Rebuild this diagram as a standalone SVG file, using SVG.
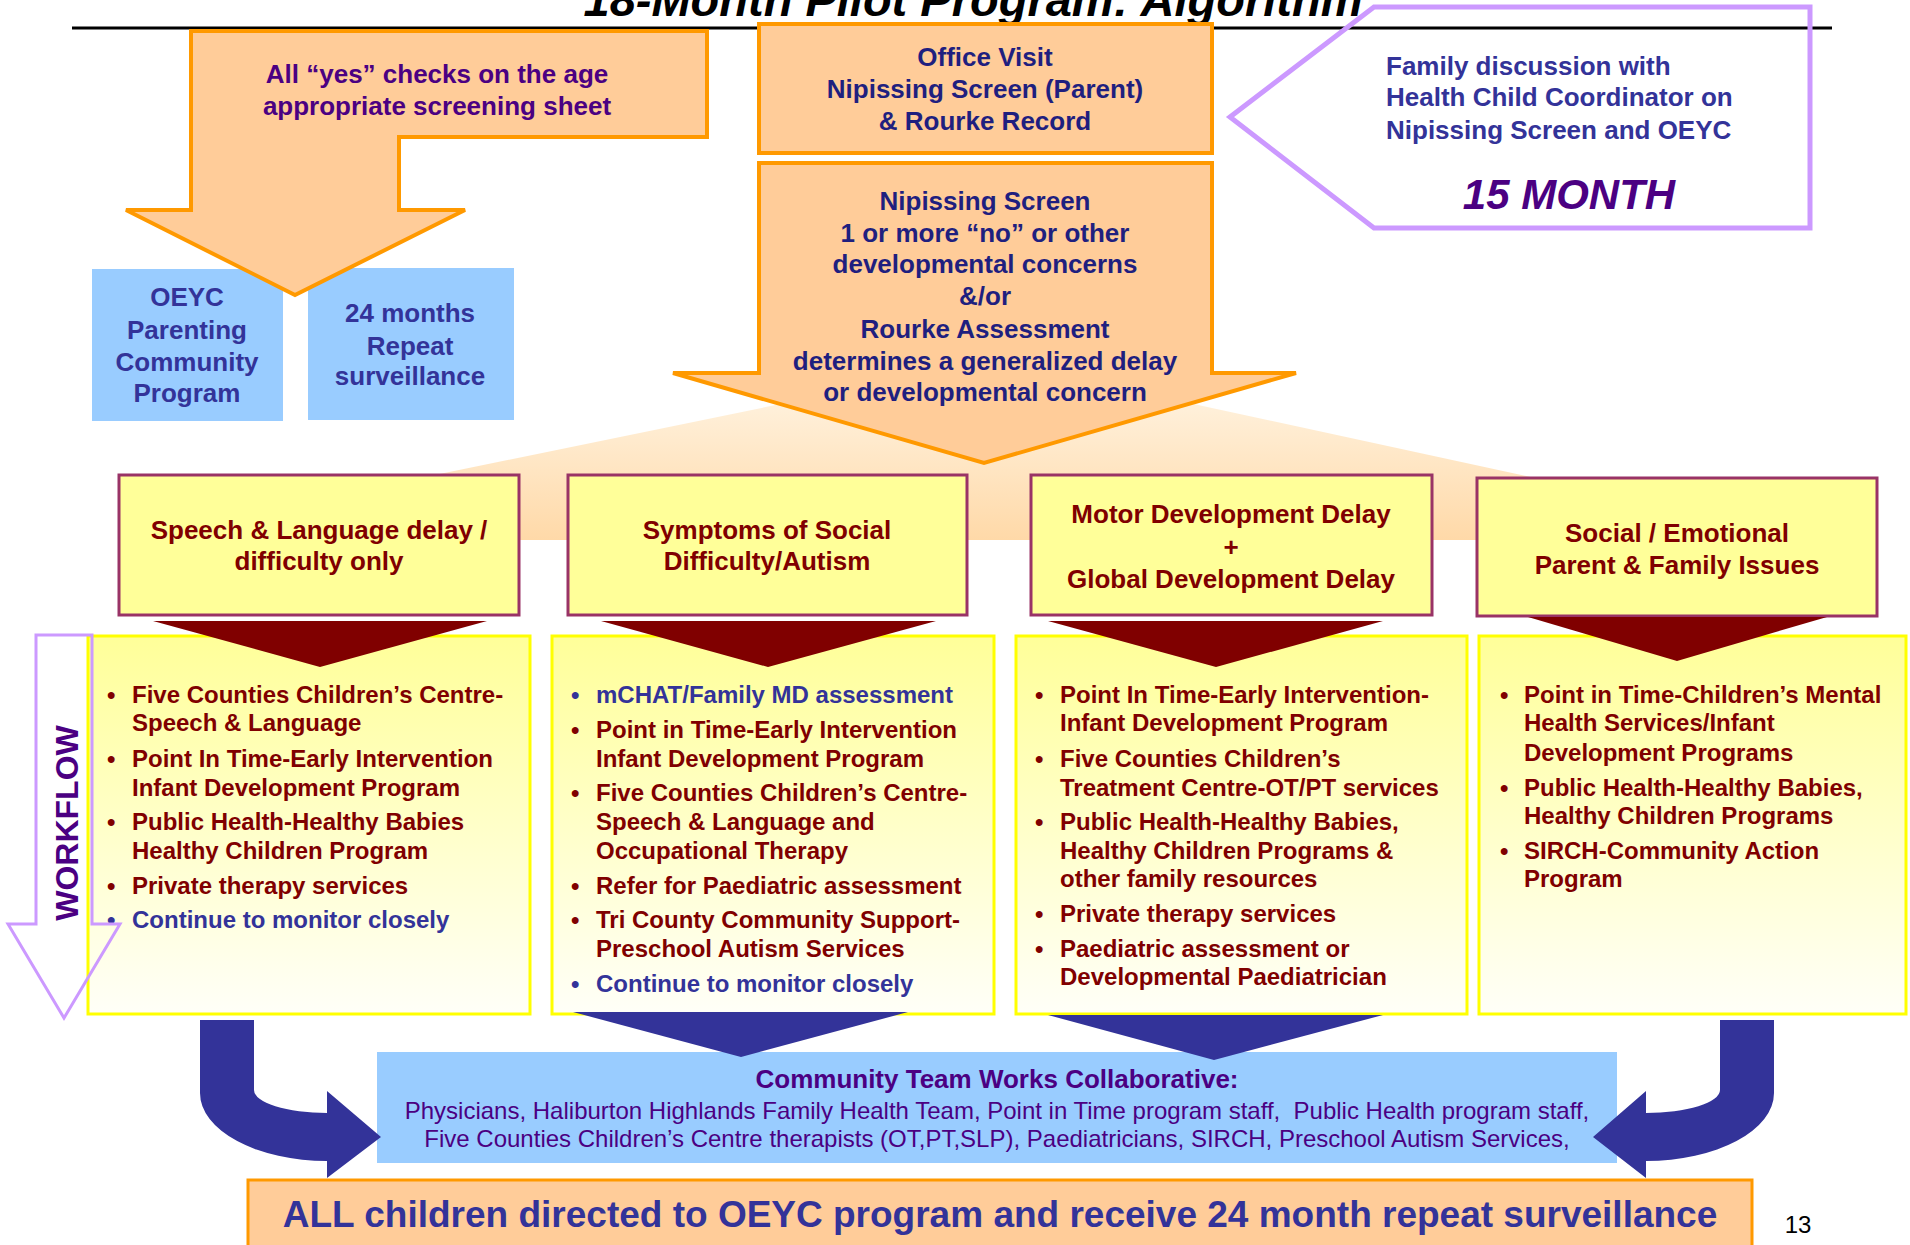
<svg xmlns="http://www.w3.org/2000/svg" width="1910" height="1245" viewBox="0 0 1910 1245">
<defs>
<style>
text{font-family:"Liberation Sans",Arial,sans-serif;}
.b{font-weight:bold;}
.c{text-anchor:middle;}
.navy{fill:#1F1F7F;}
.ind{fill:#4B0082;}
.blu{fill:#333399;}
.red{fill:#800000;}
.t26{font-size:26px;}
.t24{font-size:24px;}
.orange{fill:#FFCC99;stroke:#FF9900;stroke-width:4;}
.cat{fill:#FFFF99;stroke:#993366;stroke-width:3;}
.lst{fill:url(#yg);stroke:#FFFF00;stroke-width:3;}
.sky{fill:#99CCFF;}
.dr{fill:#800000;}
.db{fill:#333399;}
</style>
<linearGradient id="yg" x1="0" y1="0" x2="0" y2="1">
<stop offset="0" stop-color="#FFFF99"/>
<stop offset="1" stop-color="#FFFFF8"/>
</linearGradient>
<linearGradient id="fan" x1="0" y1="0" x2="0" y2="1">
<stop offset="0" stop-color="#FFF1DC"/>
<stop offset="1" stop-color="#FFD9A8"/>
</linearGradient>
</defs>
<rect width="1910" height="1245" fill="#FFFFFF"/>

<g id="title">
<text x="973" y="16" class="b c" font-style="italic" font-size="47" fill="#000000">18-Month Pilot Program: Algorithm</text>
<line x1="72" y1="28" x2="1832" y2="28" stroke="#000000" stroke-width="3"/>
</g>

<g id="fan"><polygon points="800,400 1175,400 1535,478 1535,540 425,540 425,477" fill="url(#fan)"/></g>

<g id="oeyc">
<rect x="92" y="269" width="191" height="152" class="sky"/>
<text class="b c t26 blu" x="187" y="306">OEYC</text>
<text class="b c t26 blu" x="187" y="339">Parenting</text>
<text class="b c t26 blu" x="187" y="371">Community</text>
<text class="b c t26 blu" x="187" y="402">Program</text>
</g>
<g id="repeat24">
<rect x="308" y="268" width="206" height="152" class="sky"/>
<text class="b c t26 blu" x="410" y="322">24 months</text>
<text class="b c t26 blu" x="410" y="355">Repeat</text>
<text class="b c t26 blu" x="410" y="385">surveillance</text>
</g>

<g id="yes-checks">
<polygon points="191,31 707,31 707,137 399,137 399,210 465,210 295,295 126,210 191,210" class="orange"/>
<text class="b c t26 ind" x="437" y="83">All “yes” checks on the age</text>
<text class="b c t26 ind" x="437" y="115">appropriate screening sheet</text>
</g>

<g id="office-visit">
<rect x="759" y="24" width="453" height="129" class="orange"/>
<text class="b c t26 navy" x="985" y="66">Office Visit</text>
<text class="b c t26 navy" x="985" y="98">Nipissing Screen (Parent)</text>
<text class="b c t26 navy" x="985" y="130">&amp; Rourke Record</text>
</g>

<g id="nipissing">
<polygon points="759,163 1212,163 1212,373 1296,373 984,463 673,373 759,373" class="orange"/>
<text class="b c t26 navy" x="985" y="210">Nipissing Screen</text>
<text class="b c t26 navy" x="985" y="242">1 or more “no” or other</text>
<text class="b c t26 navy" x="985" y="273">developmental concerns</text>
<text class="b c t26 navy" x="985" y="305">&amp;/or</text>
<text class="b c t26 navy" x="985" y="338">Rourke Assessment</text>
<text class="b c t26 navy" x="985" y="370">determines a generalized delay</text>
<text class="b c t26 navy" x="985" y="401">or developmental concern</text>
</g>

<g id="family-discussion">
<polygon points="1230,117 1374,7 1810,7 1810,228 1374,228" fill="none" stroke="#CC99FF" stroke-width="5"/>
<text class="b t26 blu" x="1386" y="75">Family discussion with</text>
<text class="b t26 blu" x="1386" y="106">Health Child Coordinator on</text>
<text class="b t26 blu" x="1386" y="139">Nipissing Screen and OEYC</text>
<text class="b c ind" x="1569" y="209" font-size="42" font-style="italic">15 MONTH</text>
</g>

<g id="cat-speech">
<rect x="119" y="475" width="400" height="140" class="cat"/>
<text class="b c t26 red" x="319" y="539">Speech &amp; Language delay /</text>
<text class="b c t26 red" x="319" y="570">difficulty only</text>
</g>
<g id="cat-social">
<rect x="568" y="475" width="399" height="140" class="cat"/>
<text class="b c t26 red" x="767" y="539">Symptoms of Social</text>
<text class="b c t26 red" x="767" y="570">Difficulty/Autism</text>
</g>
<g id="cat-motor">
<rect x="1031" y="475" width="401" height="140" class="cat"/>
<text class="b c t26 red" x="1231" y="523">Motor Development Delay</text>
<text class="b c t26 red" x="1231" y="556">+</text>
<text class="b c t26 red" x="1231" y="588">Global Development Delay</text>
</g>
<g id="cat-emotional">
<rect x="1477" y="478" width="400" height="138" class="cat"/>
<text class="b c t26 red" x="1677" y="542">Social / Emotional</text>
<text class="b c t26 red" x="1677" y="574">Parent &amp; Family Issues</text>
</g>

<g id="list-speech">
<rect x="88" y="636" width="442" height="378" class="lst"/>
<g class="b t24 red">
<text x="107" y="703">•</text><text x="132" y="703">Five Counties Children’s Centre-</text>
<text x="132" y="731">Speech &amp; Language</text>
<text x="107" y="767">•</text><text x="132" y="767">Point In Time-Early Intervention</text>
<text x="132" y="796">Infant Development Program</text>
<text x="107" y="830">•</text><text x="132" y="830">Public Health-Healthy Babies</text>
<text x="132" y="859">Healthy Children Program</text>
<text x="107" y="894">•</text><text x="132" y="894">Private therapy services</text>
</g>
<g class="b t24 blu">
<text x="107" y="928">•</text><text x="132" y="928">Continue to monitor closely</text>
</g>
</g>

<g id="list-social">
<rect x="552" y="636" width="442" height="378" class="lst"/>
<g class="b t24 blu">
<text x="571" y="703">•</text><text x="596" y="703">mCHAT/Family MD assessment</text>
<text x="571" y="992">•</text><text x="596" y="992">Continue to monitor closely</text>
</g>
<g class="b t24 red">
<text x="571" y="738">•</text><text x="596" y="738">Point in Time-Early Intervention</text>
<text x="596" y="767">Infant Development Program</text>
<text x="571" y="801">•</text><text x="596" y="801">Five Counties Children’s Centre-</text>
<text x="596" y="830">Speech &amp; Language and</text>
<text x="596" y="859">Occupational Therapy</text>
<text x="571" y="894">•</text><text x="596" y="894">Refer for Paediatric assessment</text>
<text x="571" y="928">•</text><text x="596" y="928">Tri County Community Support-</text>
<text x="596" y="957">Preschool Autism Services</text>
</g>
</g>

<g id="list-motor">
<rect x="1016" y="636" width="451" height="378" class="lst"/>
<g class="b t24 red">
<text x="1035" y="703">•</text><text x="1060" y="703">Point In Time-Early Intervention-</text>
<text x="1060" y="731">Infant Development Program</text>
<text x="1035" y="767">•</text><text x="1060" y="767">Five Counties Children’s</text>
<text x="1060" y="796">Treatment Centre-OT/PT services</text>
<text x="1035" y="830">•</text><text x="1060" y="830">Public Health-Healthy Babies,</text>
<text x="1060" y="859">Healthy Children Programs &amp;</text>
<text x="1060" y="887">other family resources</text>
<text x="1035" y="922">•</text><text x="1060" y="922">Private therapy services</text>
<text x="1035" y="957">•</text><text x="1060" y="957">Paediatric assessment or</text>
<text x="1060" y="985">Developmental Paediatrician</text>
</g>
</g>

<g id="list-emotional">
<rect x="1479" y="636" width="427" height="378" class="lst"/>
<g class="b t24 red">
<text x="1500" y="703">•</text><text x="1524" y="703">Point in Time-Children’s Mental</text>
<text x="1524" y="731">Health Services/Infant</text>
<text x="1524" y="761">Development Programs</text>
<text x="1500" y="796">•</text><text x="1524" y="796">Public Health-Healthy Babies,</text>
<text x="1524" y="824">Healthy Children Programs</text>
<text x="1500" y="859">•</text><text x="1524" y="859">SIRCH-Community Action</text>
<text x="1524" y="887">Program</text>
</g>
</g>

<g id="workflow">
<polygon points="36,635 92,635 92,924 120,924 64,1018 8,924 36,924" fill="none" stroke="#CC99FF" stroke-width="3"/>
<text class="b c ind" font-size="32" transform="translate(78,823) rotate(-90)" x="0" y="0">WORKFLOW</text>
</g>

<g id="community-team">
<rect x="377" y="1052" width="1240" height="111" class="sky"/>
<text class="b c t26 ind" x="997" y="1088">Community Team Works Collaborative:</text>
<text class="c t24 ind" x="997" y="1119" xml:space="preserve">Physicians, Haliburton Highlands Family Health Team, Point in Time program staff,  Public Health program staff,</text>
<text class="c t24 ind" x="997" y="1147">Five Counties Children’s Centre therapists (OT,PT,SLP), Paediatricians, SIRCH, Preschool Autism Services,</text>
</g>

<g id="all-children">
<rect x="248" y="1180" width="1504" height="80" fill="#FFCC99" stroke="#FF9900" stroke-width="3"/>
<text class="b c blu" x="1000" y="1227" font-size="37">ALL children directed to OEYC program and receive 24 month repeat surveillance</text>
</g>

<g id="connectors">
<polygon points="153,621 487,621 320,667" class="dr"/>
<polygon points="601,621 936,621 768,667" class="dr"/>
<polygon points="1048,621 1383,621 1216,667" class="dr"/>
<polygon points="1528,617 1827,617 1677,661" class="dr"/>
<polygon points="573,1012 908,1012 741,1057" class="db"/>
<polygon points="1048,1015 1383,1015 1214,1060" class="db"/>
<path d="M200,1020 L254,1020 L254,1090 A73,23 0 0 0 327,1113 L327,1091 L381,1137 L327,1178 L327,1161 A127,68 0 0 1 200,1093 Z" class="db"/>
<path d="M1774,1020 L1720,1020 L1720,1090 A74,23 0 0 1 1646,1113 L1646,1091 L1593,1137 L1646,1178 L1646,1161 A128,68 0 0 0 1774,1093 Z" class="db"/>
</g>

<text x="1798" y="1233" class="c" font-size="24" fill="#000000">13</text>
</svg>
